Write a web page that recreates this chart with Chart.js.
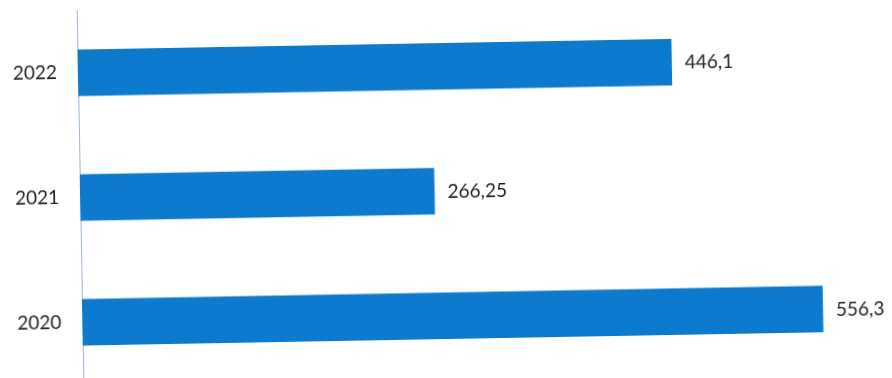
<!DOCTYPE html>
<html>
<head>
<meta charset="utf-8">
<script src="https://cdn.jsdelivr.net/npm/chart.js@4/dist/chart.umd.min.js"></script>
<style>
  html, body { margin: 0; padding: 0; background: #ffffff; overflow: hidden; }
  #wrap { width: 892px; height: 378px; transform: rotate(-1.03deg); transform-origin: 446px 189px; }
</style>
</head>
<body>
<div id="wrap"><canvas id="c" width="892" height="378"></canvas></div>
<script>
const years = ['2022', '2021', '2020'];
const values = [446.1, 266.25, 556.3];
const valueLabels = ['446,1', '266,25', '556,3'];

const FONT = 'Lato, "Open Sans", "Liberation Sans", sans-serif';

const valueLabelPlugin = {
  id: 'valueLabels',
  afterDatasetsDraw(chart) {
    const ctx = chart.ctx;
    const meta = chart.getDatasetMeta(0);
    ctx.save();
    ctx.font = '19px ' + FONT;
    ctx.fillStyle = '#1e1e1e';
    ctx.textAlign = 'left';
    ctx.textBaseline = 'middle';
    meta.data.forEach((bar, i) => {
      ctx.fillText(valueLabels[i], bar.x + 13, bar.y + 1);
    });
    ctx.restore();
  }
};

new Chart(document.getElementById('c'), {
  type: 'bar',
  data: {
    labels: years,
    datasets: [{
      data: values,
      backgroundColor: '#0E7ACD',
      borderWidth: 0,
      categoryPercentage: 1,
      barPercentage: 0.373
    }]
  },
  options: {
    indexAxis: 'y',
    responsive: false,
    animation: false,
    devicePixelRatio: 1,
    layout: { padding: { top: 4, bottom: 0, left: 0, right: 13 } },
    plugins: { legend: { display: false }, tooltip: { enabled: false } },
    scales: {
      x: { min: 0, max: 600, display: false },
      y: {
        grid: { display: false, drawTicks: false },
        border: { display: true, color: '#9fb6d2', width: 1 },
        ticks: { padding: 21, color: '#1e1e1e', font: { family: FONT, size: 19 } },
        afterFit(scale) { scale.width = 80; scale.paddingTop = 0; scale.paddingBottom = 0; }
      }
    }
  },
  plugins: [valueLabelPlugin]
});
</script>
</body>
</html>
